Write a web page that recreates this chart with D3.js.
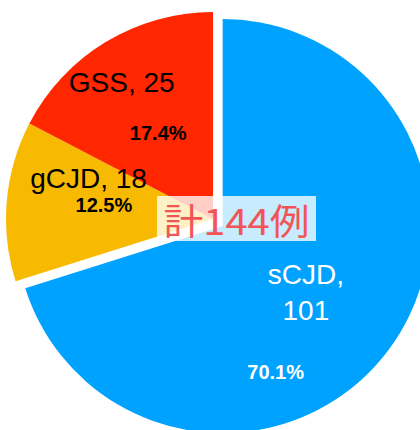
<!DOCTYPE html>
<html>
<head>
<meta charset="utf-8">
<script src="https://cdn.jsdelivr.net/npm/d3@7"></script>
<style>
	body { margin: 0; background: #fff; }
	svg { display: block; }
</style>
</head>
<body>
<script>
// data
var types = ["sCJD", "gCJD", "GSS"];
var counts = [101, 18, 25];
var sliceColors = ["#00a2ff", "#f8ba00", "#ff2600"];
var totalLabel = "計144例";

var width = 420,
	height = 430,
	cx = 213,
	cy = 219,
	radius = 207;

// label placement: [degrees clockwise from 12 o'clock, distance from slice centre]
var nameLayout = [[127.6, 105], [288.2, 131], [326.4, 165]];
var pctLayout = [[160, 155], [277.3, 110], [327.5, 102]];
var explode = [12, 0, 0];
var nameFill = ["#fff", "#000", "#000"];
var pctFill = ["#fff", "#000", "#000"];

var total = d3.sum(counts);

var svg = d3.select("body").append("svg")
	.attr("width", width)
	.attr("height", height);

var pie = d3.pie().sort(null).value(function(d){return d;});
var arcs = pie(counts);

var arc = d3.arc().innerRadius(0).outerRadius(radius);

function polar(deg, r)
{
	var a = deg * Math.PI / 180;
	return [Math.sin(a) * r, -Math.cos(a) * r];
}

function sliceTransform(d, i)
{
	var mid = (d.startAngle + d.endAngle) / 2;
	var ox = Math.sin(mid) * explode[i],
		oy = -Math.cos(mid) * explode[i];
	return "translate(" + (cx + ox) + "," + (cy + oy) + ")";
}

svg.append("g").selectAll("path")
	.data(arcs)
	.enter().append("path")
		.attr("transform", sliceTransform)
		.attr("d", arc)
		.attr("fill", function(d, i){return sliceColors[i];});

// labels go on top of every slice
var labels = svg.append("g").selectAll("g")
	.data(arcs)
	.enter().append("g")
		.attr("transform", sliceTransform);

labels.each(function(d, i){
	var g = d3.select(this);
	var p = polar(nameLayout[i][0], nameLayout[i][1]);
	var t = g.append("text")
		.attr("x", p[0])
		.attr("y", p[1])
		.attr("text-anchor", "middle")
		.attr("font-family", "'Liberation Sans', Arial, sans-serif")
		.attr("font-size", 28)
		.attr("fill", nameFill[i]);
	if(i === 0)
	{
		// big slice wraps onto two lines
		t.append("tspan").attr("x", p[0]).attr("dy", "-0.22em").text(types[i] + ",");
		t.append("tspan").attr("x", p[0]).attr("dy", "1.28em").text(counts[i]);
	}
	else
	{
		t.attr("dy", "0.36em").text(types[i] + ", " + counts[i]);
	}

	var q = polar(pctLayout[i][0], pctLayout[i][1]);
	g.append("text")
		.attr("x", q[0])
		.attr("y", q[1])
		.attr("dy", "0.36em")
		.attr("text-anchor", "middle")
		.attr("font-family", "'Liberation Sans', Arial, sans-serif")
		.attr("font-weight", "bold")
		.attr("font-size", 20)
		.attr("fill", pctFill[i])
		.text((counts[i] / total * 100).toFixed(1) + "%");
});

// total in the middle
var centre = svg.append("g").attr("transform", "translate(" + (cx + 23.5) + "," + cy + ")");
centre.append("rect")
	.attr("x", -79.5)
	.attr("y", -23)
	.attr("width", 159)
	.attr("height", 45)
	.attr("fill", "#fff")
	.attr("fill-opacity", 0.78);
centre.append("text")
	.attr("y", 16)
	.attr("text-anchor", "middle")
	.attr("font-family", "'Noto Sans CJK JP', sans-serif")
	.attr("font-size", 36)
	.attr("textLength", 146)
	.attr("lengthAdjust", "spacingAndGlyphs")
	.attr("fill", "#f25555")
	.text(totalLabel);
</script>
</body>
</html>
